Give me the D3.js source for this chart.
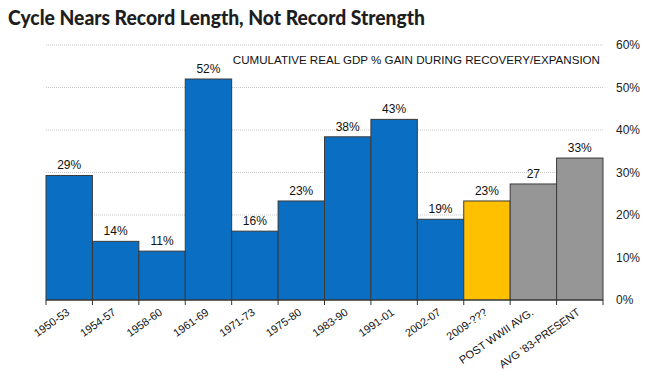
<!DOCTYPE html>
<html><head><meta charset="utf-8">
<script src="https://cdn.jsdelivr.net/npm/d3@7"></script>
<style>body{margin:0;background:#fff}svg{display:block}</style>
</head><body>
<script>
const categories = ["1950-53","1954-57","1958-60","1961-69","1971-73","1975-80","1983-90","1991-01","2002-07","2009-???","POST WWII AVG.","AVG '83-PRESENT"];
const values = [29.3,13.8,11.5,52,16.2,23.3,38.4,42.5,19,23.3,27.3,33.4];
const valueLabels = ["29%","14%","11%","52%","16%","23%","38%","43%","19%","23%","27","33%"];
const barColors = ["#0a6fc2","#0a6fc2","#0a6fc2","#0a6fc2","#0a6fc2","#0a6fc2","#0a6fc2","#0a6fc2","#0a6fc2","#ffc000","#969696","#969696"];
const yTicks = [0,10,20,30,40,50,60];
const title = "Cycle Nears Record Length, Not Record Strength";
const subtitle = "CUMULATIVE REAL GDP % GAIN DURING RECOVERY/EXPANSION";

const W=651,H=378;
const svg=d3.select("body").append("svg").attr("width",W).attr("height",H);
const x=d3.scaleBand().domain(categories).range([46,603]).padding(0);
const y=d3.scaleLinear().domain([0,60]).range([300,45]);

svg.append("text").attr("x",8).attr("y",25).text(title)
  .attr("font-family","Lato").attr("font-weight","900").attr("font-size",20.5).attr("fill","#1e1e1e")
  .attr("textLength",417).attr("lengthAdjust","spacingAndGlyphs");

// gridlines
svg.append("g").selectAll("line").data(yTicks.filter(d=>d>0)).join("line")
  .attr("x1",46).attr("x2",603).attr("y1",d=>y(d)).attr("y2",d=>y(d))
  .attr("stroke","#c8c8c8").attr("stroke-width",1).attr("stroke-dasharray","1,1");

// right axis labels
const ya=svg.append("g").attr("transform","translate(603,0)")
  .call(d3.axisRight(y).tickValues(yTicks).tickFormat(d=>d+"%").tickSize(0).tickPadding(13));
ya.select(".domain").remove();
ya.selectAll("text").attr("font-family","Liberation Sans, Arial").attr("font-size",12).attr("fill","#222");

svg.append("text").attr("x",600).attr("y",64).attr("text-anchor","end").text(subtitle)
  .attr("font-family","Liberation Sans, Arial").attr("font-size",11.6).attr("fill","#111");

// bars
svg.append("g").selectAll("rect").data(values).join("rect")
  .attr("x",(d,i)=>x(categories[i])).attr("width",x.bandwidth())
  .attr("y",d=>y(d)).attr("height",d=>y(0)-y(d))
  .attr("fill",(d,i)=>barColors[i]).attr("stroke","#3a3a3a").attr("stroke-width",1);

svg.append("g").selectAll("text").data(values).join("text")
  .attr("x",(d,i)=>x(categories[i])+x.bandwidth()/2).attr("y",d=>y(d)-6)
  .attr("text-anchor","middle").text((d,i)=>valueLabels[i])
  .attr("font-family","Liberation Sans, Arial").attr("font-size",12).attr("fill","#111");

// bottom axis
const xa=svg.append("g").attr("transform","translate(0,300)");
xa.append("line").attr("x1",46).attr("x2",603).attr("stroke","#333").attr("stroke-width",1.2);
const edges=categories.map(c=>x(c)).concat([x(categories[categories.length-1])+x.bandwidth()]);
xa.selectAll("line.t").data(edges).join("line").attr("class","t")
  .attr("x1",d=>d).attr("x2",d=>d).attr("y1",0).attr("y2",5).attr("stroke","#333");
xa.selectAll("text").data(categories).join("text")
  .attr("transform",d=>`translate(${x(d)+x.bandwidth()/2+1},${14}) rotate(-35)`)
  .attr("text-anchor","end").text(d=>d)
  .attr("font-family","Liberation Sans, Arial").attr("font-size",11).attr("fill","#111");
</script>
</body></html>
